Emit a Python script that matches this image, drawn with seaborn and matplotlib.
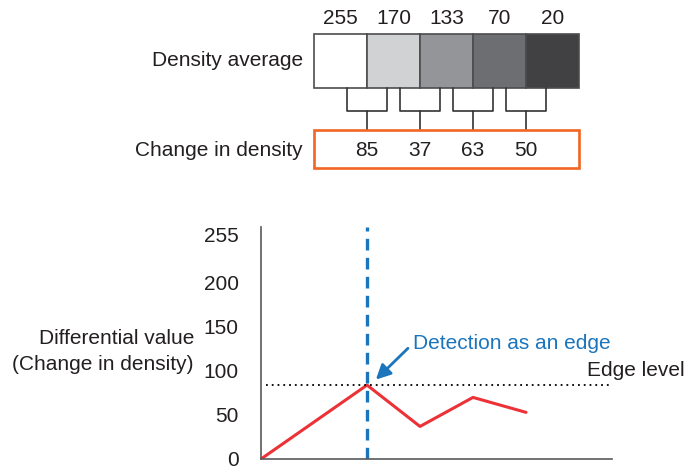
import numpy as np
import matplotlib
matplotlib.use("Agg")
import matplotlib.pyplot as plt
import seaborn as sns
from matplotlib.patches import Rectangle

# Data
density_avg = [255, 170, 133, 70, 20]
box_colors = ['#ffffff', '#d1d2d4', '#939598', '#6d6e71', '#414042']
density_change = [85, 37, 63, 50]

line_x = [0, 2, 3, 4, 5]
line_y = [0, 84, 37, 70, 53]
edge_level = 84
edge_x = 2
y_ticks = [0, 50, 100, 150, 200, 255]

BLUE = '#1b75bc'
RED = '#ec3237'
ORANGE = '#f26522'
FS = 15

sns.set_theme(style='white')
plt.rcParams['font.family'] = ['Liberation Sans', 'DejaVu Sans']

W, H = 685, 475
fig = plt.figure(figsize=(W / 100, H / 100), dpi=100)

unit_x = 53.0   # px per x unit
unit_y = 0.88   # px per y unit
xmax = (612 - 261) / unit_x
ymax = (459 - 227) / unit_y

# =============================================================================
# Bottom: differential value chart
# =============================================================================
ax = fig.add_axes([261 / W, (H - 459) / H, (612 - 261) / W, (459 - 227) / H])
sns.lineplot(x=line_x, y=line_y, ax=ax, color=RED, linewidth=2.2, sort=False)
ax.axvline(edge_x, color=BLUE, linewidth=2.4, linestyle=(0, (3.5, 2.2)))
ax.plot([0.1, xmax], [edge_level, edge_level], color='black', linewidth=1.3,
        linestyle=(0, (1, 2.2)))

ax.set_xlim(0, xmax)
ax.set_ylim(0, ymax)
ax.set_xticks([])
ax.set_yticks(y_ticks)
ax.set_yticklabels([str(v) for v in y_ticks], fontsize=FS, color='#231f20')
ax.tick_params(axis='y', length=0, pad=16)
for side in ['top', 'right']:
    ax.spines[side].set_visible(False)
for side in ['left', 'bottom']:
    ax.spines[side].set_color('#58595b')
    ax.spines[side].set_linewidth(1.2)
ax.set_xlabel('')
ax.set_ylabel('')

ax.annotate('', xy=(2.13, 88), xytext=(2.81, 128),
            arrowprops=dict(arrowstyle='-|>', color=BLUE, lw=2, mutation_scale=22))
ax.text(2.87, 131, 'Detection as an edge', color=BLUE, fontsize=FS,
        ha='left', va='center')
ax.text(6.15, 101, 'Edge level', color='#231f20', fontsize=FS,
        ha='left', va='center', clip_on=False)

fig.text(194 / W, 1 - 339 / H, 'Differential value', fontsize=FS,
         ha='right', va='center', color='#231f20')
fig.text(194 / W, 1 - 364 / H, '(Change in density)', fontsize=FS,
         ha='right', va='center', color='#231f20')

# =============================================================================
# Top: density boxes and changes
# =============================================================================
top = fig.add_axes([261 / W, (H - 180) / H, (612 - 261) / W, 180 / H])
top.set_xlim(0, xmax)
top.set_ylim(180, 0)
top.axis('off')

box_left = np.arange(len(density_avg)) + 1
top.bar(box_left, 54, bottom=34, width=1, align='edge', color=box_colors,
        edgecolor='#4d4d4f', linewidth=1.2)
for xl, val in zip(box_left, density_avg):
    top.text(xl + 0.5, 19, str(val), fontsize=FS, ha='center', va='center',
             color='#231f20')

boundaries = box_left[1:]
half = 0.37
for b, val in zip(boundaries, density_change):
    top.plot([b - half, b - half, b + half, b + half], [88, 111, 111, 88],
             color='#333333', linewidth=1.2)
    top.plot([b, b], [111, 130], color='#333333', linewidth=1.2)
    top.text(b, 151, str(val), fontsize=FS, ha='center', va='center',
             color='#231f20')

top.add_patch(Rectangle((box_left[0], 130), len(density_avg), 38, fill=False,
                        edgecolor=ORANGE, linewidth=1.9, zorder=3))

top.text(0.79, 61, 'Density average', fontsize=FS, ha='right', va='center',
         color='#231f20', clip_on=False)
top.text(0.79, 151, 'Change in density', fontsize=FS, ha='right', va='center',
         color='#231f20', clip_on=False)

plt.savefig('out.png', dpi=100)
plt.close()
